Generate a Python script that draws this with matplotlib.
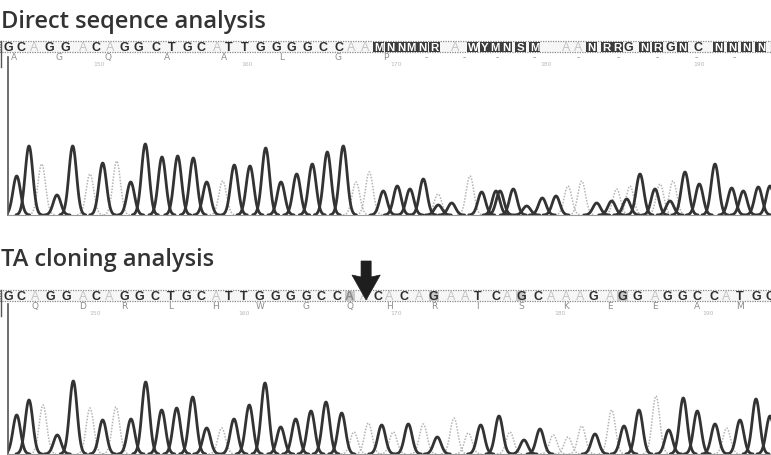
import numpy as np
import matplotlib
matplotlib.use("Agg")
import matplotlib.pyplot as plt
from matplotlib.patches import Rectangle, Polygon

W, H = 771, 456

# ---------------- data ----------------
# Panel 1: direct sequencing (dark = G/C/T traces, light = A trace)
p1_dark_pos = [16.7, 29, 57, 72.7, 102.7, 130.7, 145.3, 162, 177.7, 193.3, 206.7, 234.3,
               250, 265.7, 281, 296.7, 312.3, 327.3, 343.3, 383.3, 397.3, 410, 423.3, 438.3,
               451.7, 481.7, 496, 500, 513.3, 526.7, 542.3, 556, 596.7, 611.7, 626.7, 640,
               655, 670, 685, 699.3, 715, 731.7, 743.3, 758.3, 770]
p1_dark_h = [39, 69, 20, 69, 52, 33, 71, 58, 59, 57, 33, 50,
             49, 67, 33, 41, 51, 63, 69, 24, 29, 26, 36, 10,
             12, 23, 24, 24, 26, 9, 17, 19, 12, 14, 16, 41,
             26, 14, 43, 31, 51, 27, 24, 28, 29]
p1_light_pos = [41.7, 90, 116.7, 222.7, 356, 369.3, 438, 470, 568, 581.7, 616.7, 630, 660, 673]
p1_light_h = [51, 41, 54, 34, 33, 43, 21, 39, 29, 34, 26, 29, 31, 34]

seq1_calls = "GCAGGACAGGCTGCATTGGGGCCAA" + "MNNMNRAWYMNSMAANRRGNRGNCNNNN"
seq1_pos = [16.7, 29, 41.7, 57, 72.7, 90, 102.7, 116.7, 130.7, 145.3, 162, 177.7, 193.3,
            206.7, 222.7, 234.3, 250, 265.7, 281, 296.7, 312.3, 327.3, 343.3, 356, 369.3,
            383, 394, 405, 415, 426, 438, 458, 476, 488, 498, 509, 523, 537, 568, 580,
            593, 608, 619, 630, 646, 659, 671, 683, 699, 719, 733, 747, 761]
aa1_letters = ["A", "G", "Q", "A", "A", "L", "G", "P", "-", "-", "-", "-", "-", "-", "-", "-", "-"]
aa1_pos = [22, 66, 115, 173, 230, 287, 342, 390, 430, 467, 500, 537, 580, 620, 658, 697, 735]
num1_labels = ["150", "160", "170", "180", "190"]
num1_pos = [106, 252, 400, 548, 700]

# Panel 2: TA cloning
p2_dark_pos = [16.7, 29, 57.3, 73.3, 102.7, 131, 145.7, 161.7, 176.7, 192.7, 206.7, 234,
               249.3, 265, 280.7, 295.7, 311, 326, 341.7, 381.7, 408.3, 437.3, 480.7, 499,
               524, 540, 595, 624, 639, 668.7, 683.3, 697.3, 715, 740, 756, 770]
p2_dark_h = [39, 54, 19, 73, 34, 35, 72, 44, 46, 57, 26, 35,
             49, 71, 27, 35, 43, 52, 41, 29, 30, 17, 29, 38,
             14, 25, 20, 28, 44, 24, 56, 43, 30, 34, 55, 38]
p2_light_pos = [43, 90, 116, 221.7, 354, 368.3, 393.3, 423.3, 454, 468.3, 510, 553.3,
                568, 581.7, 611.7, 656, 726.7]
p2_light_h = [49, 46, 47, 26, 22, 31, 22, 30, 36, 21, 22, 19, 17, 28, 44, 58, 26]

seq2_calls = "GCAGGACAGGCTGCATTGGGGCCAAC" + "ACAGAATCAGCAAAGAGGAGGCCATGC"
seq2_shaded = [23, 29, 35, 42]
aa2_letters = list("QDRLHWGQHRISKEEAM")
num2_labels = ["150", "160", "170", "180", "190"]
num2_pos = [102, 249, 400, 562, 709]
mutation_pos = 368.3

# ---------------- drawing ----------------
fig = plt.figure(figsize=(W / 100, H / 100), dpi=100)
fig.patch.set_facecolor("white")

DARK = "#333333"
LIGHT = "#b4b4b4"
SIG = 3.8


def frac_box(left_px, top_px, right_px, bottom_px):
    return [left_px / W, 1 - bottom_px / H, (right_px - left_px) / W, (bottom_px - top_px) / H]


def draw_chrom(ax, dpos, dh, lpos, lh, ymax):
    for p, h in zip(lpos, lh):
        x = np.linspace(p - 13, p + 13, 90)
        ax.plot(x, h * np.exp(-0.5 * ((x - p) / SIG) ** 2), color=LIGHT, lw=1.1, ls=(0, (1, 1)))
    for p, h in zip(dpos, dh):
        x = np.linspace(p - 13, p + 13, 90)
        ax.plot(x, h * np.exp(-0.5 * ((x - p) / SIG) ** 2), color=DARK, lw=2.0,
                solid_capstyle="round")
    ax.set_xlim(8, 771)
    ax.set_ylim(0, ymax)
    for s in ["top", "right"]:
        ax.spines[s].set_visible(False)
    ax.spines["left"].set_color("#555555")
    ax.spines["left"].set_linewidth(1.2)
    ax.spines["bottom"].set_color("#999999")
    ax.spines["bottom"].set_linestyle((0, (1, 1)))
    ax.set_xticks([])
    ax.set_yticks([])
    ax.patch.set_alpha(0)


def draw_seq(ax, calls, pos, shaded, aa_letters, aa_pos, nums, nums_pos, top, bot):
    ax.set_xlim(8, 771)
    ax.set_ylim(top + 28, top)
    ax.axis("off")
    ax.add_patch(Rectangle((8, top + 1), 763, bot - top - 1, facecolor="#f6f6f6",
                           edgecolor="#8a8a8a", lw=0.9, ls=(0, (1, 1)), clip_on=False))
    ax.plot([8.5, 8.5], [top + 1, top + 27], color="#555555", lw=1.0, clip_on=False)
    ymid = (top + 1 + bot) / 2 + 0.3
    fs = 9.0
    for i, (c, p) in enumerate(zip(calls, pos)):
        if i in shaded:
            ax.add_patch(Rectangle((p - 5, top + 1.5), 10, bot - top - 2, facecolor="#c9c9c9",
                                   edgecolor="none"))
        if c in "GCT":
            ax.text(p, ymid, c, ha="center", va="center", fontsize=fs, family="Liberation Sans",
                    weight="bold", color="#2e2e2e", clip_on=True)
        elif c == "A":
            if i in shaded:
                ax.text(p, ymid, c, ha="center", va="center", fontsize=fs,
                        family="Liberation Sans", weight="bold", color="#8a8a8a")
            else:
                ax.text(p, ymid, c, ha="center", va="center", fontsize=fs,
                        family="Liberation Sans", color="#c4c4c4")
        else:
            ax.add_patch(Rectangle((p - 5.4, top + 1.5), 10.8, bot - top - 2,
                                   facecolor="#3c3c3c", edgecolor="none"))
            ax.text(p, ymid, c, ha="center", va="center", fontsize=8.2, family="Liberation Sans",
                    weight="bold", color="white")
    for a, p in zip(aa_letters, aa_pos):
        ax.text(p, top + 16.5, a, ha="center", va="center", fontsize=6.5,
                family="DejaVu Sans", color="#8c8c8c")
    for n, p in zip(nums, nums_pos):
        ax.text(p, top + 23.5, n, ha="center", va="center", fontsize=4.3,
                family="DejaVu Sans", color="#b8b8b8")


# titles
fig.text(1 / W, 1 - 28 / H, "Direct seqence analysis", fontsize=17, family="Open Sans",
         weight="semibold", color="#333333", va="baseline", ha="left")
fig.text(1 / W, 1 - 266 / H, "TA cloning analysis", fontsize=17, family="Open Sans",
         weight="semibold", color="#333333", va="baseline", ha="left")

# panel 1
ax_s1 = fig.add_axes(frac_box(0, 41, W, 69))
draw_seq(ax_s1, seq1_calls, seq1_pos, [], aa1_letters, aa1_pos, num1_labels, num1_pos, 41, 53)
ax_c1 = fig.add_axes(frac_box(8, 58, W, 216))
draw_chrom(ax_c1, p1_dark_pos, p1_dark_h, p1_light_pos, p1_light_h, 158)

# panel 2
seq2_pos = sorted(p2_dark_pos + p2_light_pos)
aa2_pos = seq2_pos[2::3][:len(aa2_letters)]
ax_s2 = fig.add_axes(frac_box(0, 290, W, 318))
draw_seq(ax_s2, seq2_calls, seq2_pos, seq2_shaded, aa2_letters, aa2_pos, num2_labels, num2_pos,
         290, 302)
ax_c2 = fig.add_axes(frac_box(8, 305, W, 455))
draw_chrom(ax_c2, p2_dark_pos, p2_dark_h, p2_light_pos, p2_light_h, 150)

# mutation arrow
m = mutation_pos + 2
arrow = Polygon([(m - 5, 262), (m + 5, 262), (m + 5, 278), (m + 14, 276), (m, 301),
                 (m - 14, 276), (m - 5, 278)], closed=True, facecolor="#1e1e1e",
                edgecolor="#1e1e1e", lw=0.5, clip_on=False, zorder=10)
ax_s2.add_patch(arrow)

fig.savefig("out.png", dpi=100, facecolor="white")
